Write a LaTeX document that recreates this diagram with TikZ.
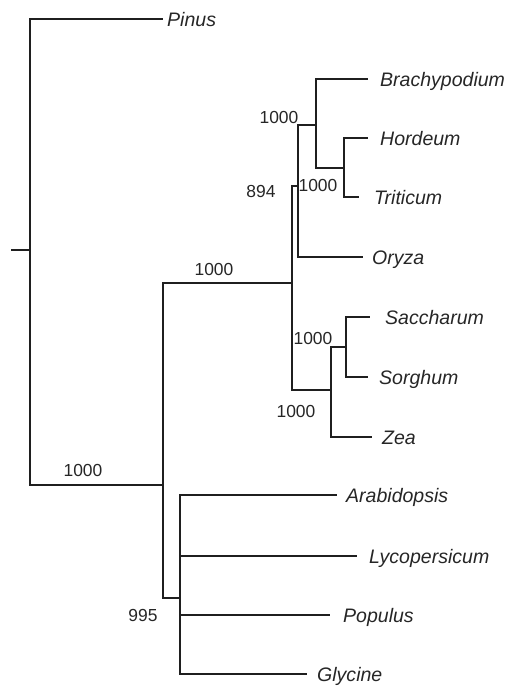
\documentclass[tikz,border=0pt]{standalone}
\usepackage{fontspec}
\setmainfont{Liberation Sans}
\begin{document}
\begin{tikzpicture}[x=1bp,y=-1bp,
  br/.style={line width=1.4bp,draw=black!88},
  leaf/.style={anchor=west,inner ysep=0pt,text height=14.4bp,text depth=0pt,font=\fontsize{19.6}{22}\selectfont\itshape,text=black!85},
  boot/.style={inner sep=0pt,text height=12.5bp,text depth=0pt,font=\fontsize{17.5}{19}\selectfont,text=black!85}]
\useasboundingbox (0,0) rectangle (509,687);
% leaves
\node[leaf,inner xsep=4bp] (pinus) at (163,19) {Pinus};
\node[leaf,inner xsep=12bp] (brachy) at (368,79) {Brachypodium};
\node[leaf,inner xsep=12bp] (hord) at (368,138) {Hordeum};
\node[leaf,inner xsep=15bp] (trit) at (359,197) {Triticum};
\node[leaf,inner xsep=9bp] (oryza) at (363,257) {Oryza};
\node[leaf,inner xsep=15bp] (sacch) at (370,317) {Saccharum};
\node[leaf,inner xsep=11bp] (sorg) at (368,377) {Sorghum};
\node[leaf,inner xsep=10bp] (zea) at (372,437) {Zea};
\node[leaf,inner xsep=9bp] (arab) at (337,495) {Arabidopsis};
\node[leaf,inner xsep=12bp] (lyco) at (357,556) {Lycopersicum};
\node[leaf,inner xsep=13bp] (pop) at (330,615) {Populus};
\node[leaf,inner xsep=10bp] (gly) at (307,674) {Glycine};
% internal nodes
\coordinate (stub) at (11,250);
\coordinate (root) at (30,250);
\coordinate (angio) at (163,485);
\coordinate (grass) at (292,283);
\coordinate (bop) at (298,186);
\coordinate (bp) at (316,125);
\coordinate (ht) at (344,168);
\coordinate (pacc) at (331,390);
\coordinate (ss) at (346,347);
\coordinate (eud) at (180,598);
% branches
\draw[br] (stub) -- (root);
\draw[br] (root) |- (pinus.west);
\draw[br] (root) |- (angio);
\draw[br] (angio) |- (grass);
\draw[br] (angio) |- (eud);
\draw[br] (grass) |- (bop);
\draw[br] (grass) |- (pacc);
\draw[br] (bop) |- (bp);
\draw[br] (bop) |- (oryza.west);
\draw[br] (bp) |- (brachy.west);
\draw[br] (bp) |- (ht);
\draw[br] (ht) |- (hord.west);
\draw[br] (ht) |- (trit.west);
\draw[br] (pacc) |- (ss);
\draw[br] (pacc) |- (zea.west);
\draw[br] (ss) |- (sacch.west);
\draw[br] (ss) |- (sorg.west);
\draw[br] (eud) |- (arab.west);
\draw[br] (eud) |- (lyco.west);
\draw[br] (eud) |- (pop.west);
\draw[br] (eud) |- (gly.west);
% bootstrap values
\node[boot] (b1) at (83,470) {1000};
\node[boot] (b2) at (214,269) {1000};
\node[boot] (b3) at (279,117) {1000};
\node[boot] (b4) at (261,191) {894};
\node[boot] (b5) at (318,185) {1000};
\node[boot] (b6) at (313,338) {1000};
\node[boot] (b7) at (296,411) {1000};
\node[boot] (b8) at (143,615) {995};
\end{tikzpicture}
\end{document}
